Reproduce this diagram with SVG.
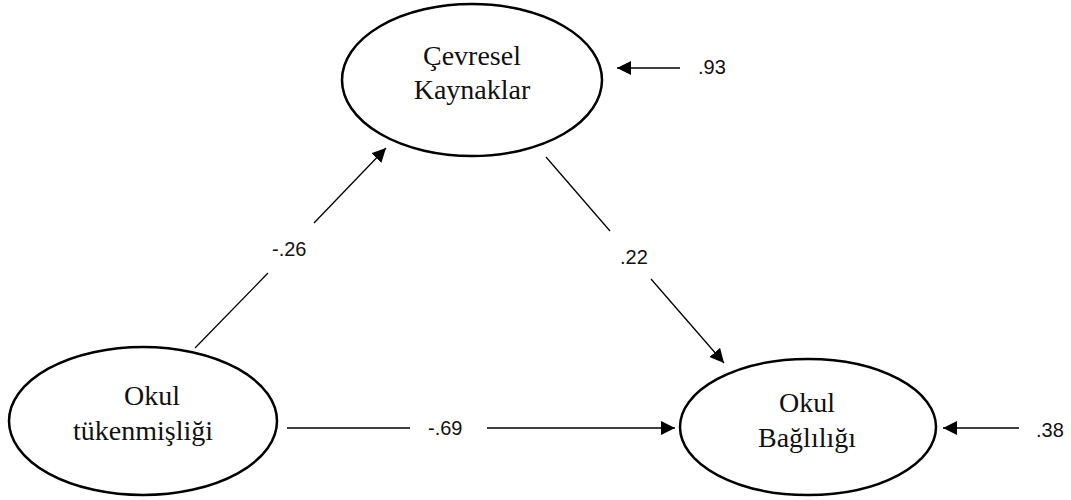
<svg xmlns="http://www.w3.org/2000/svg" width="1071" height="500" viewBox="0 0 1071 500">
<style>
.node{fill:#fff;stroke:#000;stroke-width:2.5}
.nt{font-family:"Liberation Serif","Times New Roman",serif;font-size:28px;fill:#111;text-anchor:middle}
.lbl{font-family:"Liberation Sans",Arial,sans-serif;font-size:20px;fill:#111}
.edge{stroke:#000;stroke-width:1.3;fill:none}
</style>
<defs>
<marker id="ah" viewBox="0 0 10 10" refX="10" refY="5" markerWidth="14" markerHeight="14" markerUnits="userSpaceOnUse" orient="auto">
<path d="M0,0 L10,5 L0,10 z" fill="#000"/>
</marker>
</defs>
<rect width="1071" height="500" fill="#fff"/>
<g id="connectors">
<line class="edge" x1="195" y1="348" x2="268" y2="273"/>
<line class="edge" x1="314" y1="223" x2="386" y2="148" marker-end="url(#ah)"/>
<line class="edge" x1="546" y1="157" x2="610" y2="231"/>
<line class="edge" x1="651" y1="279" x2="724" y2="363" marker-end="url(#ah)"/>
<line class="edge" x1="287" y1="428" x2="410" y2="428"/>
<line class="edge" x1="487" y1="428" x2="675" y2="428" marker-end="url(#ah)"/>
<line class="edge" x1="680" y1="68" x2="617" y2="68" marker-end="url(#ah)"/>
<line class="edge" x1="1019" y1="428" x2="943" y2="428" marker-end="url(#ah)"/>
<text class="lbl" x="272" y="256">-.26</text>
<text class="lbl" x="620" y="264">.22</text>
<text class="lbl" x="428" y="435">-.69</text>
<text class="lbl" x="698" y="74">.93</text>
<text class="lbl" x="1036" y="437">.38</text>
</g>
<g id="cevresel">
<ellipse class="node" cx="472" cy="80" rx="130" ry="76"/>
<text class="nt" x="472" y="65">Çevresel</text>
<text class="nt" x="472" y="99">Kaynaklar</text>
</g>
<g id="tukenmislik">
<ellipse class="node" cx="143" cy="421" rx="134" ry="74"/>
<text class="nt" x="152" y="405">Okul</text>
<text class="nt" x="143" y="440">tükenmişliği</text>
</g>
<g id="baglilik">
<ellipse class="node" cx="808" cy="427" rx="128" ry="68"/>
<text class="nt" x="807" y="412">Okul</text>
<text class="nt" x="807" y="447">Bağlılığı</text>
</g>
</svg>
